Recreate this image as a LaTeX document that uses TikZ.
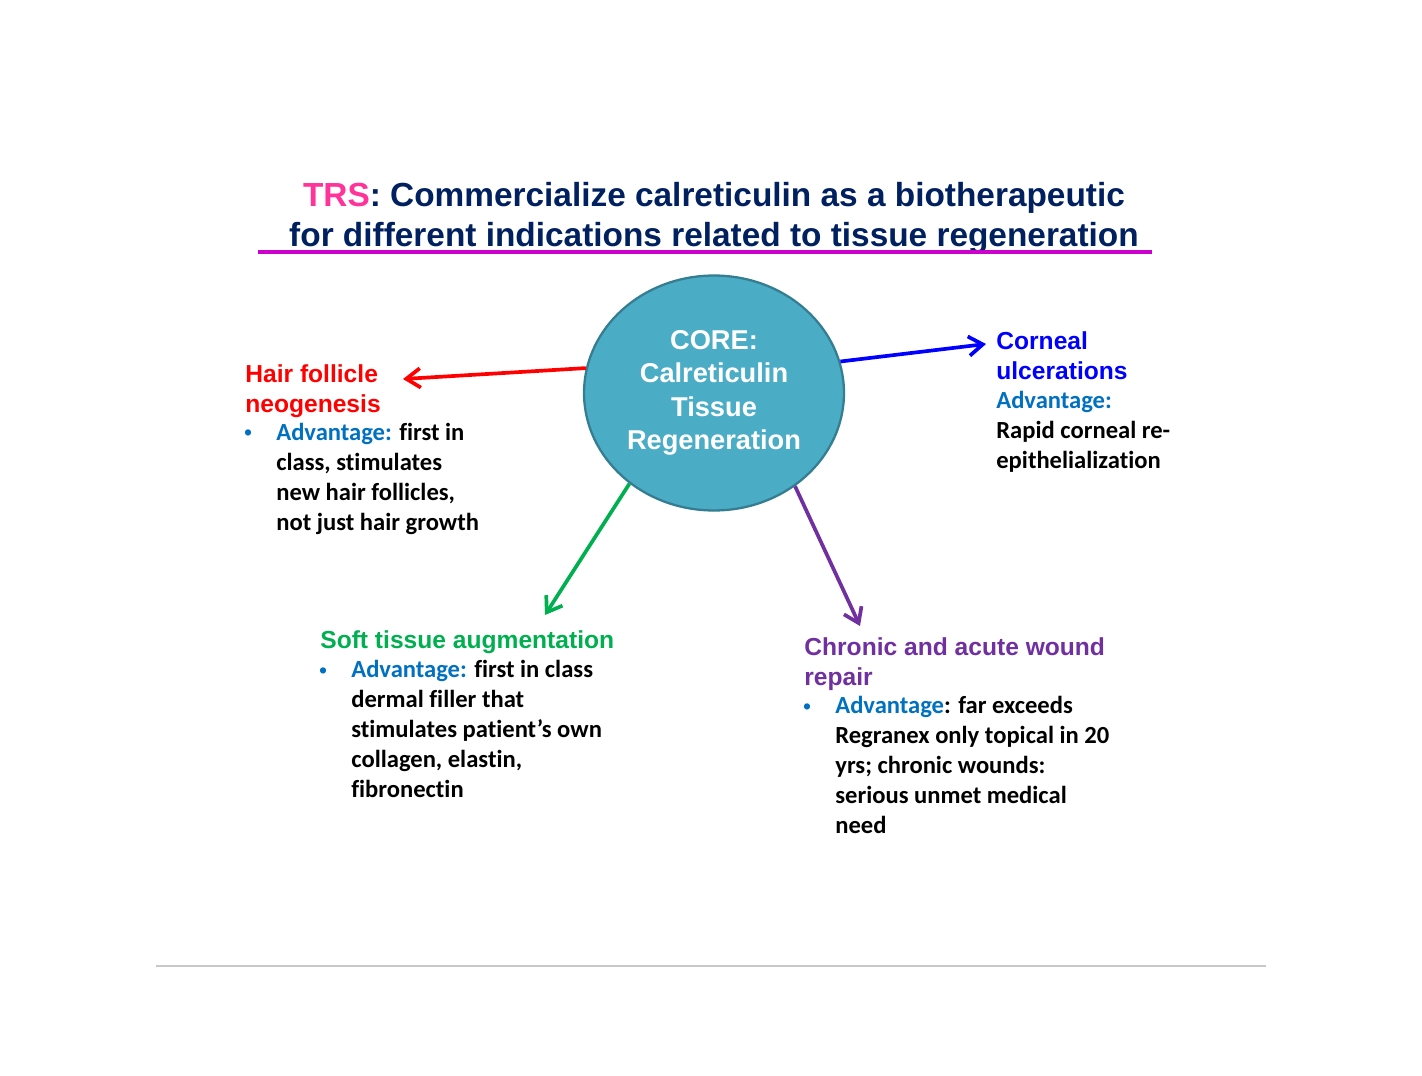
\documentclass[tikz,border=0pt]{standalone}
\usepackage{fontspec}
\setmainfont{Carlito}[Ligatures=NoCommon]
\newfontfamily\arialfont{Liberation Sans}
\usepackage{xcolor}
\usetikzlibrary{shapes,positioning,arrows.meta}
\definecolor{trspink}{HTML}{FF3399}
\definecolor{navy}{HTML}{002060}
\definecolor{ulmag}{HTML}{CC00CC}
\definecolor{corefill}{HTML}{4BACC6}
\definecolor{coreline}{HTML}{357D91}
\definecolor{advblue}{HTML}{0070C0}
\definecolor{softgreen}{HTML}{00B050}
\definecolor{woundpurple}{HTML}{7030A0}
\definecolor{rulegray}{HTML}{C8C8C8}
\newcommand{\advlbl}[1]{\textcolor{advblue}{#1}}
\tikzset{ell/.style={ellipse,draw=coreline,line width=1.3pt,fill=corefill,minimum width=5.2cm,minimum height=4.7cm,inner sep=0,text=white,align=center,font=\arialfont\bfseries\fontsize{15.5}{19}\selectfont},
  hd/.style={anchor=north west,inner sep=0,align=left,font=\arialfont\bfseries\fontsize{14}{17}\selectfont},
  txt/.style={anchor=north west,inner sep=0,align=left,font=\bfseries\fontsize{14}{17}\selectfont},
  bul/.style={inner sep=0,text=advblue,font=\arialfont\fontsize{13}{15}\selectfont},
  arr/.style={line width=2.1pt}}

\begin{document}
\begin{tikzpicture}[x=0.02cm,y=-0.02cm,>={Straight Barb[length=8pt,width=11pt]}]
    \fill[white] (0,0) rectangle (1422,1075);
    \useasboundingbox (0,0) rectangle (1422,1075);

    \node[anchor=north,inner sep=0,align=center,text=navy,font=\arialfont\bfseries\fontsize{19}{22.7}\selectfont] (title) at (714,182) {\textcolor{trspink}{TRS}: Commercialize calreticulin as a biotherapeutic\\for different indications related to tissue regeneration};
    \draw [ulmag,line width=2pt] (258,252) to (1152,252);

    \node[ell] (core) at (714,393) {CORE:\\Calreticulin\\Tissue\\Regeneration};

    \node[hd,red] (hair) at (245,364) {Hair follicle\\neogenesis};
    \node[bul] (hairdot) at (248,435) {\textbullet};
    \node[txt] (hairtxt) at (276,423) {\advlbl{Advantage:} first in\\class, stimulates\\new hair follicles,\\not just hair growth};

    \node[hd,blue] (corn) at (996,331) {Corneal\\ulcerations};
    \node[txt] (corntxt) at (996,391) {\advlbl{Advantage:}\\Rapid corneal re-\\epithelialization};

    \node[hd,softgreen] (soft) at (320,630) {Soft tissue augmentation};
    \node[bul] (softdot) at (323,673) {\textbullet};
    \node[txt] (softtxt) at (351,660) {\advlbl{Advantage:} first in class\\dermal filler that\\stimulates patient’s own\\collagen, elastin,\\fibronectin};

    \node[hd,woundpurple] (wound) at (804,637) {Chronic and acute wound\\repair};
    \node[bul] (wounddot) at (807,709) {\textbullet};
    \node[txt] (woundtxt) at (835,696) {\advlbl{Advantage}: far exceeds\\Regranex only topical in 20\\yrs; chronic wounds:\\serious unmet medical\\need};

    \coordinate (hairtip) at (403,379);
    \coordinate (corntip) at (986,344);
    \coordinate (softtip) at (545,615);
    \coordinate (woundtip) at (860,626);

    \draw [->,arr,red] (core.169) to (hairtip);
    \draw [->,arr,blue] (core.14) to (corntip);
    \draw [->,arr,softgreen] (core.227) to (softtip);
    \draw [->,arr,woundpurple] (core.311) to (woundtip);

    \draw [rulegray,line width=0.8pt] (156,966) to (1266,966);
\end{tikzpicture}
\end{document}
